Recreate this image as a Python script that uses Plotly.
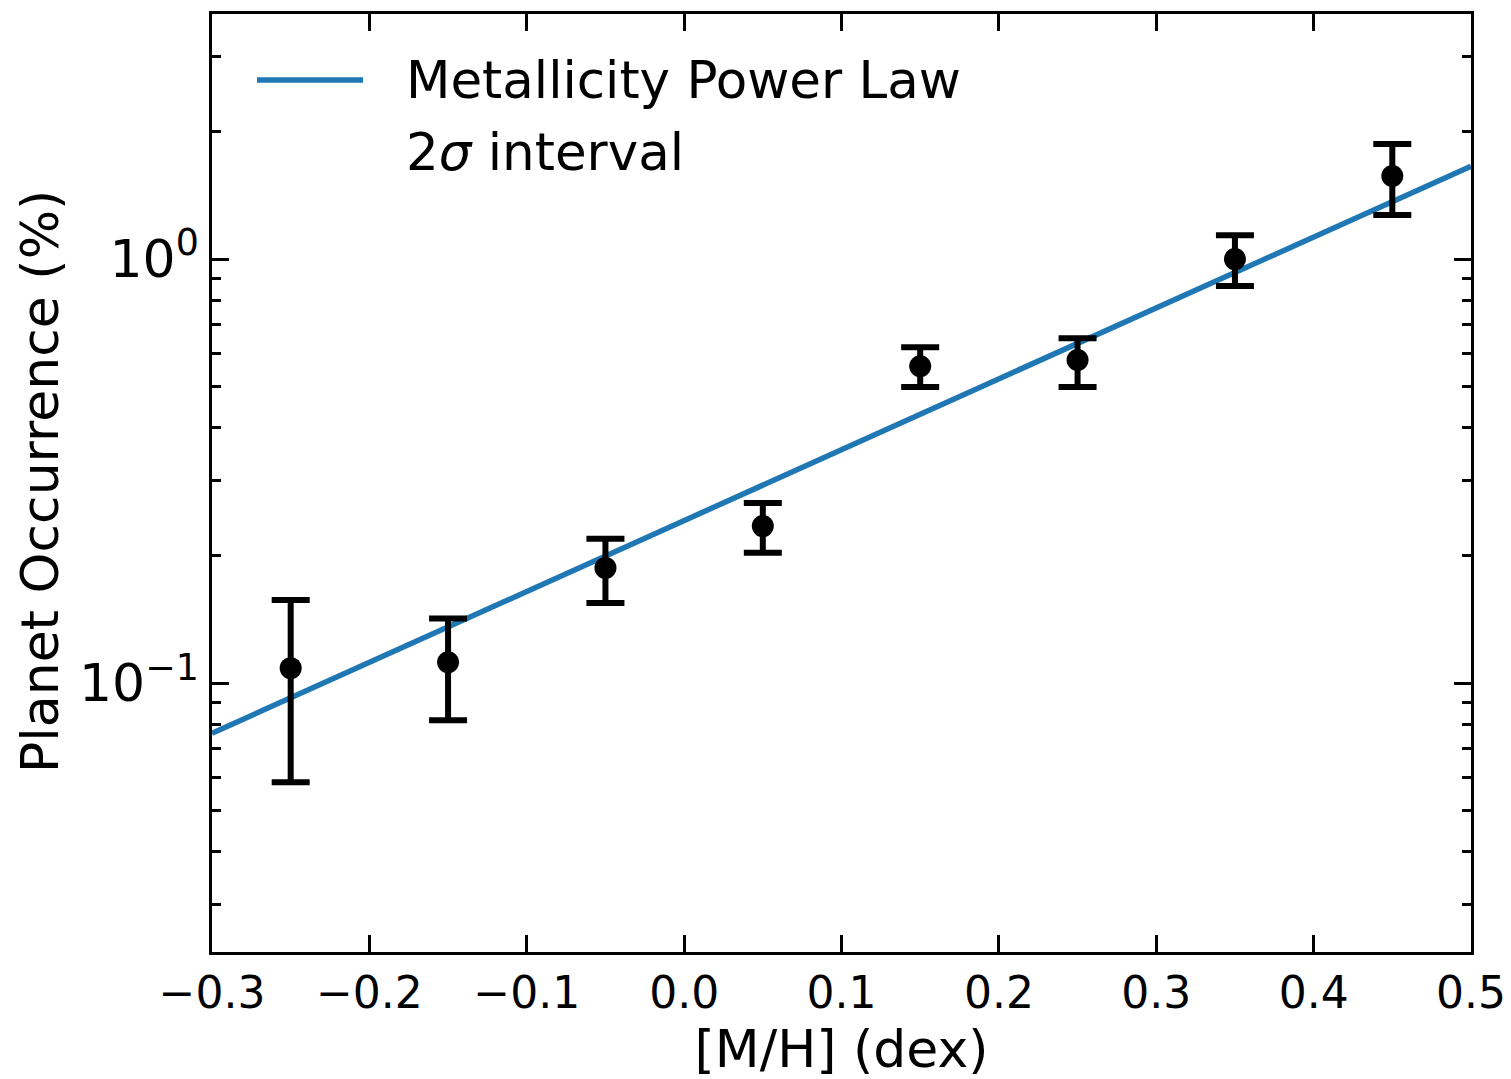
import plotly.graph_objects as go

# Data
mh = [-0.25, -0.15, -0.05, 0.05, 0.15, 0.25, 0.35, 0.45]
occurrence = [0.1085, 0.112, 0.187, 0.2346, 0.559, 0.578, 1.0, 1.57]
err_upper = [0.157, 0.142, 0.219, 0.266, 0.620, 0.651, 1.139, 1.867]
err_lower = [0.0584, 0.0818, 0.1545, 0.203, 0.499, 0.499, 0.864, 1.27]

fit_x = [-0.3, 0.5]
fit_y = [0.0762, 1.656]

x_ticks = [-0.3, -0.2, -0.1, 0.0, 0.1, 0.2, 0.3, 0.4, 0.5]
x_ticktext = ["\u22120.3", "\u22120.2", "\u22120.1", "0.0", "0.1", "0.2", "0.3", "0.4", "0.5"]
y_ticks = [0.1, 1.0]
y_ticktext = ["10<sup>\u22121</sup>", "10<sup>0</sup>"]
y_minor = [0.03, 0.04, 0.05, 0.06, 0.07, 0.08, 0.09, 0.2, 0.3, 0.4, 0.5, 0.6, 0.7, 0.8, 0.9, 2, 3]

legend_labels = ["Metallicity Power Law", "2<i>\u03c3</i> interval"]
x_title = "[M/H] (dex)"
y_title = "Planet Occurrence (%)"

plus = [u - v for u, v in zip(err_upper, occurrence)]
minus = [v - l for v, l in zip(occurrence, err_lower)]

FONT = "DejaVu Sans"
BLUE = "#1f77b4"

fig = go.Figure()

fig.add_trace(go.Scatter(
    x=fit_x, y=fit_y, mode="lines",
    line=dict(color=BLUE, width=5.5),
    name="Metallicity Power Law", showlegend=False,
))
fig.add_trace(go.Scatter(
    x=mh, y=occurrence, mode="markers",
    marker=dict(color="black", size=22),
    error_y=dict(type="data", symmetric=False, array=plus, arrayminus=minus,
                 color="black", thickness=6, width=19),
    showlegend=False,
))

axis_common = dict(
    showline=True, linewidth=2.5, linecolor="black", mirror="ticks",
    ticks="inside", ticklen=17, tickwidth=2.5, tickcolor="black",
    showgrid=False, zeroline=False, automargin=False,
    tickfont=dict(family=FONT, size=44, color="black"),
)

fig.update_xaxes(
    **axis_common,
    range=[-0.3, 0.5],
    tickvals=x_ticks, ticktext=x_ticktext,
    title=dict(text=x_title, font=dict(family=FONT, size=52, color="black"), standoff=16),
)
fig.update_yaxes(
    **axis_common,
    type="log",
    range=[-1.634, 0.578],
    tickvals=y_ticks, ticktext=y_ticktext,
    minor=dict(ticks="inside", ticklen=9, tickwidth=2.5, tickcolor="black", tickvals=y_minor, showgrid=False),
)
fig.update_yaxes(tickfont=dict(family=FONT, size=52, color="black"))

# Y-axis title as a rotated annotation for exact placement
fig.add_annotation(xref="paper", yref="paper",
                   x=(40 - 212) / 1259, y=(952 - 482) / 938,
                   xanchor="center", yanchor="middle", showarrow=False,
                   textangle=-90, text=y_title,
                   font=dict(family=FONT, size=52, color="black"))

# Manual legend (swatch + labels) in paper coordinates
fig.add_shape(type="line", xref="paper", yref="paper",
              x0=(257 - 212) / 1259, x1=(363 - 212) / 1259,
              y0=(952 - 80) / 938, y1=(952 - 80) / 938,
              line=dict(color=BLUE, width=5.5))
for i, lab in enumerate(legend_labels):
    fig.add_annotation(xref="paper", yref="paper",
                       x=(404 - 212) / 1259, y=(952 - (80 + 72 * i)) / 938,
                       xanchor="left", yanchor="middle", showarrow=False,
                       text=lab, font=dict(family=FONT, size=51.5, color="black"))

fig.update_layout(
    width=1511, height=1079,
    margin=dict(l=212, r=40, t=14, b=127),
    plot_bgcolor="white", paper_bgcolor="white",
    font=dict(family=FONT, color="black"),
    showlegend=False,
)

fig.write_html("out.html")
